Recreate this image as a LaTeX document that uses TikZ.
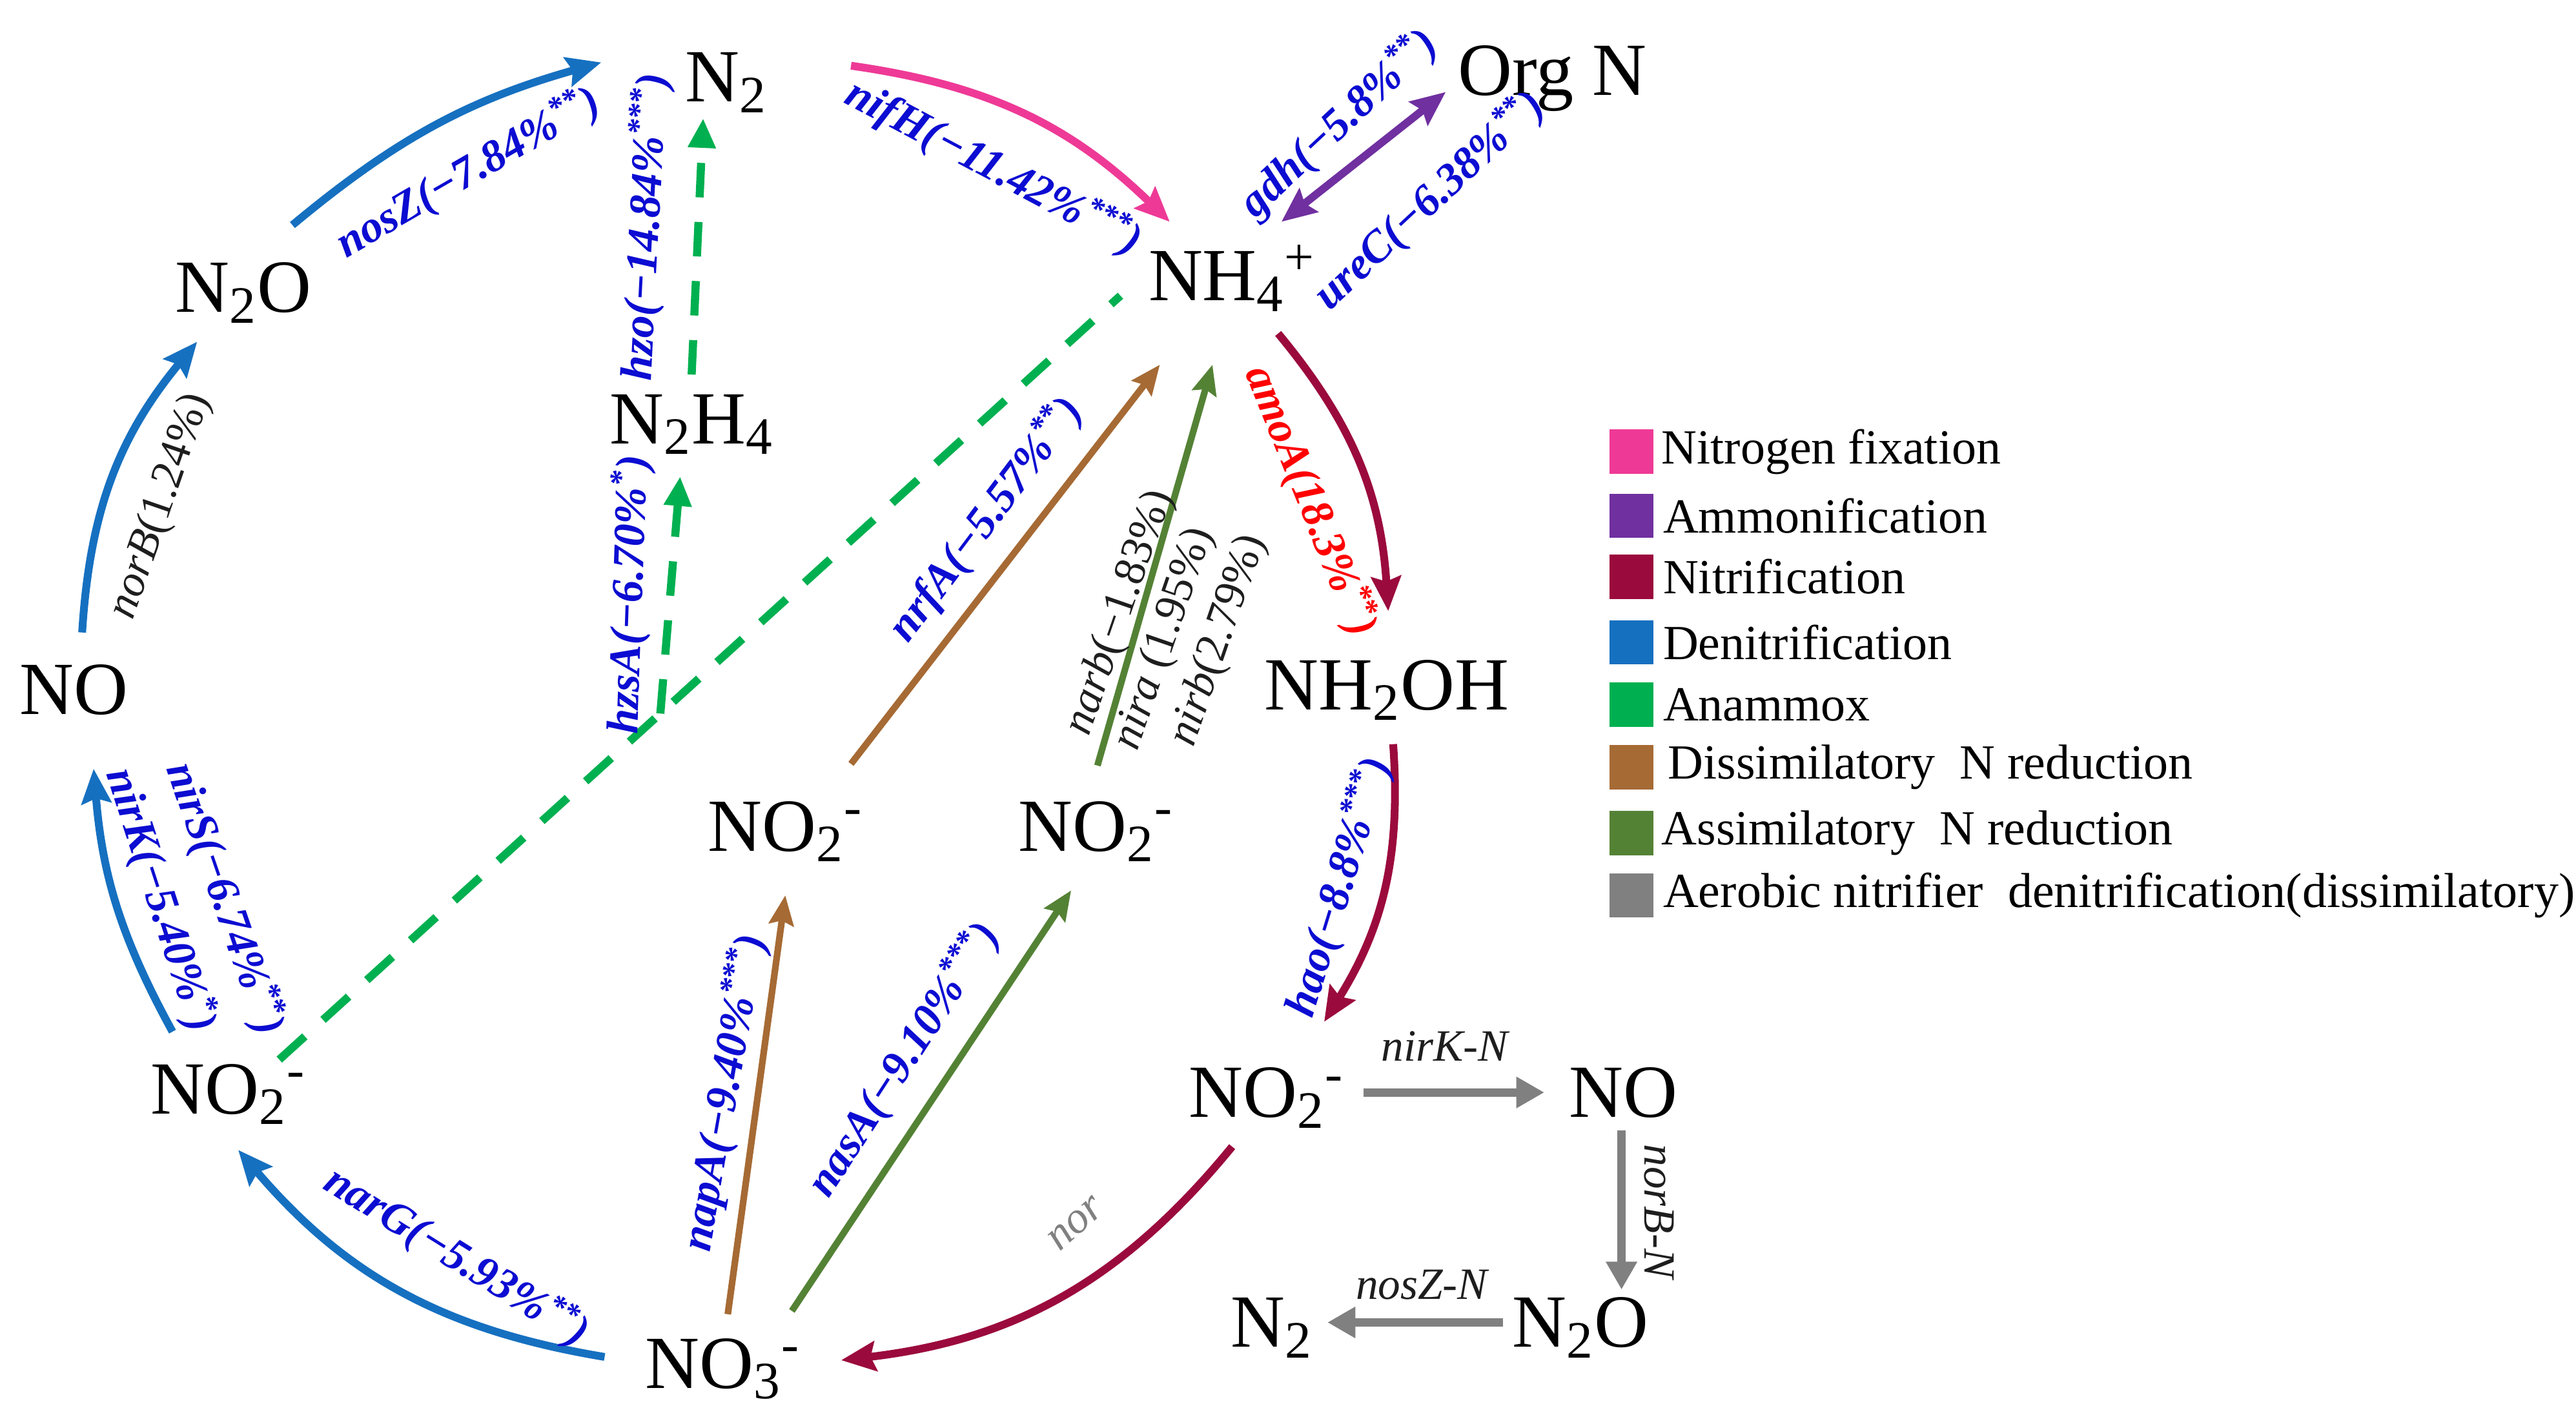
\documentclass[tikz,border=0pt]{standalone}
\usepackage{fontspec}
\setmainfont{Liberation Serif}
\usetikzlibrary{arrows.meta,calc}
\definecolor{pinkc}{RGB}{238,58,150}
\definecolor{purplec}{RGB}{112,48,160}
\definecolor{nitric}{RGB}{155,10,60}
\definecolor{denit}{RGB}{22,112,192}
\definecolor{anam}{RGB}{0,176,80}
\definecolor{brownc}{RGB}{166,106,52}
\definecolor{assim}{RGB}{84,130,53}
\definecolor{grayc}{RGB}{128,128,128}
\definecolor{labblue}{RGB}{12,12,210}
\definecolor{labred}{RGB}{255,0,0}
\definecolor{darktext}{RGB}{30,30,30}
\begin{document}
\begin{tikzpicture}[x=0.02cm,y=0.02cm,
  sp/.style={inner sep=0pt, anchor=base, font=\fontsize{26}{30}\selectfont},
  glab/.style={inner sep=0pt, font=\fontsize{15.5}{18}\selectfont\bfseries\itshape, text=labblue},
  rlab/.style={inner sep=0pt, font=\fontsize{15.5}{18}\selectfont\bfseries\itshape, text=labred},
  klab/.style={inner sep=0pt, font=\fontsize{15.5}{18}\selectfont, text=darktext},
  legsq/.style={draw=none, minimum size=0.54cm, inner sep=0pt},
  legtx/.style={anchor=west, inner sep=0pt, font=\fontsize{17}{20}\selectfont},
  carr/.style={line width=2.7pt, -{Stealth[length=0.42cm,width=0.36cm,inset=0.06cm]}},
  sarr/.style={line width=2.3pt, -{Stealth[length=0.36cm,width=0.3cm,inset=0.05cm]}},
  garr/.style={line width=3pt, grayc, -{Triangle[length=0.34cm,width=0.36cm]}},
  dashln/.style={line width=2.8pt, anam, dash pattern=on 0.42cm off 0.3cm},
]
\useasboundingbox (0,0) rectangle (1568,-869);

% species
\node[sp] (N2t) at (442,-62) {N\textsubscript{2}};
\node[sp] (OrgN) at (945,-58) {Org N};
\node[sp] (N2O) at (148,-190) {N\textsubscript{2}O};
\node[sp] (NH4) at (750,-183) {NH\textsubscript{4}\textsuperscript{+}};
\node[sp] (N2H4) at (421,-270) {N\textsubscript{2}H\textsubscript{4}};
\node[sp] (NOl) at (45,-435) {NO};
\node[sp] (NH2OH) at (844,-432) {NH\textsubscript{2}OH};
\node[sp] (NO2a) at (478,-518) {NO\textsubscript{2}\textsuperscript{-}};
\node[sp] (NO2b) at (667,-518) {NO\textsubscript{2}\textsuperscript{-}};
\node[sp] (NO2l) at (139,-678) {NO\textsubscript{2}\textsuperscript{-}};
\node[sp] (NO2r) at (771,-680) {NO\textsubscript{2}\textsuperscript{-}};
\node[sp] (NOr) at (988,-680) {NO};
\node[sp] (N2Or) at (962,-820) {N\textsubscript{2}O};
\node[sp] (N2r) at (774,-820) {N\textsubscript{2}};
\node[sp] (NO3) at (440,-845) {NO\textsubscript{3}\textsuperscript{-}};

% anammox (dashed)
\coordinate (AS) at ([shift={(31,33)}]NO2l.base);
\coordinate (AE) at ([shift={(-68,3)}]NH4.base);
\draw[dashln] (AS) -- (AE);
\coordinate (J) at ($(AS)!0.453!(AE)$);
\draw[dashln, -{Triangle[length=0.36cm,width=0.32cm]}] (J) -- ([shift={(-7,-20)}]N2H4.base);
\draw[dashln, -{Triangle[length=0.36cm,width=0.32cm]}] ([shift={(0,42)}]N2H4.base) -- ([shift={(-14,-10)}]N2t.base);

% denitrification
\draw[carr, denit] ([shift={(30,53)}]N2O.base) to[bend left=12] ([shift={(-76,24)}]N2t.base);
\draw[carr, denit] ([shift={(5,50)}]NOl.base) to[bend left=18] ([shift={(-28,-18)}]N2O.base);
\draw[carr, denit] ([shift={(-34,50)}]NO2l.base) to[bend left=12] ([shift={(12,-33)}]NOl.base);
\draw[carr, denit] ([shift={(-72,19)}]NO3.base) to[bend left=20] ([shift={(6,-22)}]NO2l.base);

% nitrogen fixation
\draw[carr, pinkc] ([shift={(76,22)}]N2t.base) to[bend left=18] ([shift={(-38,48)}]NH4.base);

% ammonification
\draw[line width=2.7pt, purplec, {Stealth[length=0.42cm,width=0.36cm,inset=0.06cm]}-{Stealth[length=0.42cm,width=0.36cm,inset=0.06cm]}] ([shift={(30,48)}]NH4.base) -- ([shift={(-65,2)}]OrgN.base);

% nitrification
\draw[carr, nitric] ([shift={(28,-20)}]NH4.base) to[bend left=18] ([shift={(1,60)}]NH2OH.base);
\draw[carr, nitric] ([shift={(4,-21)}]NH2OH.base) to[bend left=18] ([shift={(35,58)}]NO2r.base);
\draw[carr, nitric] ([shift={(-21,-18)}]NO2r.base) to[bend left=22] ([shift={(72,17)}]NO3.base);

% aerobic nitrifier denitrification
\draw[garr] ([shift={(59,15)}]NO2r.base) -- ([shift={(-48,15)}]NOr.base);
\draw[garr] ([shift={(-1,-8)}]NOr.base) -- ([shift={(25,35)}]N2Or.base);
\draw[garr] ([shift={(-47,15)}]N2Or.base) -- ([shift={(34,15)}]N2r.base);

% dissimilatory / assimilatory
\draw[sarr, brownc] ([shift={(3,45)}]NO3.base) -- ([shift={(0,-27)}]NO2a.base);
\draw[sarr, assim] ([shift={(42,47)}]NO3.base) -- ([shift={(-15,-24)}]NO2b.base);
\draw[sarr, brownc] ([shift={(40,53)}]NO2a.base) -- ([shift={(-44,-39)}]NH4.base);
\draw[sarr, assim] ([shift={(1,52)}]NO2b.base) -- ([shift={(-12,-39)}]NH4.base);

% labels
\node[glab, rotate=30] (LnosZ) at (285,-105) {nosZ(−7.84\%\textsuperscript{**})};
\node[klab, rotate=71] (LnorB) at (98,-308) {\textit{norB}(1.24\%)};
\node[glab, rotate=-71] (LnirS) at (137,-547) {nirS(−6.74\%\textsuperscript{**})};
\node[glab, rotate=-72] (LnirK) at (98,-548) {nirK(−5.40\%\textsuperscript{*})};
\node[glab, rotate=-32] (LnarG) at (278,-765) {narG(−5.93\%\textsuperscript{**})};
\node[glab, rotate=-28] (LnifH) at (605,-102) {nifH(−11.42\%\textsuperscript{***})};
\node[glab, rotate=43] (Lgdh) at (815,-75) {gdh(−5.8\%\textsuperscript{**})};
\node[glab, rotate=43] (LureC) at (870,-122) {ureC(−6.38\%\textsuperscript{**})};
\node[rlab, rotate=-68] (LamoA) at (798,-305) {amoA(18.3\%\textsuperscript{**})};
\node[glab, rotate=73] (Lhao) at (815,-540) {hao(−8.8\%\textsuperscript{***})};
\node[klab, text=grayc, rotate=42] (Lnor) at (655,-745) {\textit{nor}};
\node[klab] (LnirKN) at (880,-637) {\textit{nirK-N}};
\node[klab, rotate=-90] (LnorBN) at (1010,-738) {\textit{norB-N}};
\node[klab] (LnosZN) at (866,-782) {\textit{nosZ-N}};
\node[glab, rotate=80] (LnapA) at (441,-665) {napA(−9.40\%\textsuperscript{***})};
\node[glab, rotate=57] (LnasA) at (550,-645) {nasA(−9.10\%\textsuperscript{***})};
\node[glab, rotate=53] (LnrfA) at (600,-316) {nrfA(−5.57\%\textsuperscript{**})};
\node[klab, rotate=71] (Lnarb) at (682,-373) {\textit{narb}(−1.83\%)};
\node[klab, rotate=71] (Lnira) at (709,-389) {\textit{nira} (1.95\%)};
\node[klab, rotate=71] (Lnirb) at (742,-390) {\textit{nirb}(2.79\%)};
\node[glab, rotate=88] (LhzsA) at (383,-362) {hzsA(−6.70\%\textsuperscript{*})};
\node[glab, rotate=87] (Lhzo) at (393,-138) {hzo(−14.84\%\textsuperscript{***})};

% legend
\node[legsq, fill=pinkc] (q1) at (993,-275) {};
\node[legsq, fill=purplec] (q2) at (993,-314) {};
\node[legsq, fill=nitric] (q3) at (993,-351) {};
\node[legsq, fill=denit] (q4) at (993,-391) {};
\node[legsq, fill=anam] (q5) at (993,-429) {};
\node[legsq, fill=brownc] (q6) at (993,-467) {};
\node[legsq, fill=assim] (q7) at (993,-507) {};
\node[legsq, fill=grayc] (q8) at (993,-545) {};
\node[legtx] (t1) at (1011,-275) {Nitrogen fixation};
\node[legtx] (t2) at (1012,-314) {Ammonification};
\node[legtx] (t3) at (1012,-351) {Nitrification};
\node[legtx] (t4) at (1012,-391) {Denitrification};
\node[legtx] (t5) at (1012,-429) {Anammox};
\node[legtx] (t6) at (1015,-467) {Dissimilatory\ \ N reduction};
\node[legtx] (t7) at (1011,-507) {Assimilatory\ \ N reduction};
\node[legtx] (t8) at (1012,-545) {Aerobic nitrifier\ \ denitrification(dissimilatory)};
\end{tikzpicture}
\end{document}
